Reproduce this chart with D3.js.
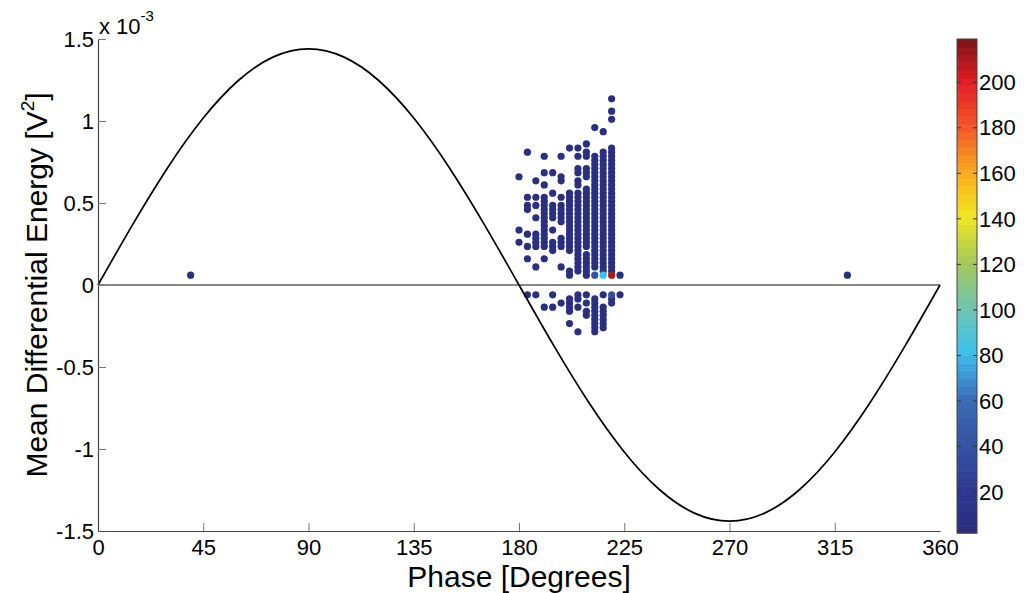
<!DOCTYPE html>
<html>
<head>
<meta charset="utf-8">
<script src="https://cdn.jsdelivr.net/npm/d3@7"></script>
<style>
  html, body { margin: 0; padding: 0; background: #fff; }
  svg text { font-family: "Liberation Sans", Arial, sans-serif; fill: #000; }
</style>
</head>
<body>
<div id="chart"></div>
<script>
// reference sine (x 10^-3), read every 15 degrees
const sinePhase = [0, 15, 30, 45, 60, 75, 90, 105, 120, 135, 150, 165, 180,
    195, 210, 225, 240, 255, 270, 285, 300, 315, 330, 345, 360];
const sineValue = [0, 0.373, 0.72, 1.018, 1.247, 1.391, 1.44, 1.391, 1.247, 1.018, 0.72, 0.373, 0,
    -0.373, -0.72, -1.018, -1.247, -1.391, -1.44, -1.391, -1.247, -1.018, -0.72, -0.373, 0];

// histogram bins: phase of each column, energy bins above / below zero
// energy of bin k = +-(binStart + k * binStep)
const binStart = 0.06, binStep = 0.025;
const columnPhase = [39.6, 180, 183.6, 187.2, 190.8, 194.4, 198, 201.6, 205.2, 208.8, 212.4, 216, 219.6, 223.2, 320.4];
const positiveBins = [
    [0],
    [24, 11, 8],
    [30, 19, 17, 16, 10, 7, 4],
    [23, 19, 17, 14, 10, 9, 8, 7, 2],
    [29, 25, 22, 19, 18, 17, 16, 15, 14, 13, 12, 11, 10, 9, 8, 7, 4],
    [25, 20, 17, 16, 15, 14, 11, 8, 7, 6],
    [29, 24, 23, 19, 17, 16, 15, 14, 13, 9, 8, 7, 2],
    [31, 20, 19, 18, 17, 16, 15, 14, 13, 12, 11, 10, 9, 8, 7, 6, 1, 0],
    [31, 29, 26, 25, 23, 22, 20, 19, 18, 17, 16, 15, 14, 13, 12, 11, 10, 9, 8, 7, 6, 5, 4, 3, 2, 1],
    [32, 30, 29, 26, 25, 24, 21, 20, 19, 18, 17, 16, 15, 14, 13, 12, 11, 10, 9, 8, 7, 5, 4, 3, 2, 1, 0],
    [36, 29, 28, 27, 26, 25, 24, 23, 22, 21, 20, 19, 18, 17, 16, 15, 14, 13, 12, 11, 10, 9, 8, 7, 6, 5, 4, 3, 2, 0],
    [35, 30, 29, 28, 27, 26, 25, 24, 23, 22, 21, 20, 19, 18, 17, 16, 15, 14, 13, 12, 11, 10, 9, 8, 7, 6, 5, 4, 3, 2, 1, 0],
    [43, 40, 38, 31, 30, 29, 28, 27, 26, 25, 24, 23, 22, 21, 20, 19, 18, 17, 16, 15, 14, 13, 12, 11, 10, 9, 8, 7, 6, 5, 4, 3, 2, 1, 0],
    [0],
    [0]
];
const negativeBins = [
    [],
    [],
    [0],
    [0],
    [3],
    [0, 3],
    [2],
    [1, 2, 3, 4, 7],
    [0, 1, 3, 9],
    [0, 2, 4, 5],
    [1, 2, 3, 4, 5, 6, 7, 8, 9],
    [0, 3, 4, 5, 6, 7, 8],
    [0, 1, 2],
    [0],
    []
];
// counts of the few bins that are not dark blue
const hotPhase = [212.4, 216, 219.6, 219.6];
const hotBin = [0, 0, 0, 0];
const hotSign = [1, 1, 1, -1];
const hotCount = [40, 80, 212, 36];
const baseCount = 4;

const colorTicks = [20, 40, 60, 80, 100, 120, 140, 160, 180, 200];
const colorMin = 2, colorMax = 219;
const xTicks = [0, 45, 90, 135, 180, 225, 270, 315, 360];
const yTicks = [-1.5, -1, -0.5, 0, 0.5, 1, 1.5];

const width = 1024, height = 593;
const svg = d3.select('#chart').append('svg')
    .attr('width', width).attr('height', height);

const x = d3.scaleLinear().domain([0, 360]).range([98, 940]);
const y = d3.scaleLinear().domain([-1.5, 1.5]).range([531, 39]);

// jet-ish palette as printed
const jet = d3.scaleLinear()
    .domain([0, 0.08, 0.18, 0.27, 0.33, 0.37, 0.45, 0.55, 0.64, 0.73, 0.82, 0.91, 1])
    .range(['#2b2e7e', '#2e3890', '#3552a3', '#3a6db5', '#3fa0db', '#3fc2ec', '#6cc3b5', '#a6c957',
        '#f2e722', '#f8ac1e', '#f15a29', '#e41f26', '#7b1416'])
    .interpolate(d3.interpolateRgb);
const levels = 64;
const colorOf = v => {
    let t = (v - colorMin) / (colorMax - colorMin);
    t = Math.max(0, Math.min(1, t));
    const lvl = Math.min(levels - 1, Math.floor(t * levels));
    return jet((lvl + 0.5) / levels);
};

// build the point list
const points = [];
columnPhase.forEach((ph, i) => {
    positiveBins[i].forEach(k => points.push({ phase: ph, bin: k, sign: 1, count: baseCount }));
    negativeBins[i].forEach(k => points.push({ phase: ph, bin: k, sign: -1, count: baseCount }));
});
hotPhase.forEach((ph, i) => {
    const p = points.find(d => d.phase === ph && d.bin === hotBin[i] && d.sign === hotSign[i]);
    if (p) p.count = hotCount[i];
});
points.sort((a, b) => a.count - b.count);

// zero line
svg.append('line')
    .attr('x1', x(0)).attr('x2', x(360))
    .attr('y1', y(0)).attr('y2', y(0))
    .attr('stroke', '#111').attr('stroke-width', 1.2);

// scatter
svg.append('g').selectAll('circle')
    .data(points)
    .join('circle')
    .attr('cx', d => x(d.phase))
    .attr('cy', d => y(d.sign * (binStart + d.bin * binStep)))
    .attr('r', 3.6)
    .attr('fill', d => colorOf(d.count));

// sine
const line = d3.line()
    .x((d, i) => x(sinePhase[i]))
    .y(d => y(d))
    .curve(d3.curveNatural);
svg.append('path')
    .attr('d', line(sineValue))
    .attr('fill', 'none')
    .attr('stroke', '#000')
    .attr('stroke-width', 1.7);

// axes (matlab style, ticks inward, no box)
const xAxis = svg.append('g').attr('transform', `translate(0,${y(-1.5)})`)
    .call(d3.axisBottom(x).tickValues(xTicks).tickSizeInner(-8).tickSizeOuter(0).tickPadding(5));
const yAxis = svg.append('g').attr('transform', `translate(${x(0)},0)`)
    .call(d3.axisLeft(y).tickValues(yTicks).tickSizeInner(-8).tickSizeOuter(0).tickPadding(4)
        .tickFormat(d => String(d)));
[xAxis, yAxis].forEach(g => {
    g.select('.domain').attr('stroke', '#444').attr('stroke-width', 1.2);
    g.selectAll('.tick line').attr('stroke', '#777').attr('stroke-width', 1);
    g.selectAll('.tick text').attr('font-size', 22).attr('fill', '#000')
        .style('font-family', '"Liberation Sans", Arial, sans-serif');
});
xAxis.selectAll('.tick text').attr('dy', '0.85em');
yAxis.selectAll('.tick text').attr('dy', '0.35em');
// no tick mark on the axis corners
xAxis.selectAll('.tick line').filter(d => d === 0 || d === 360).remove();
yAxis.selectAll('.tick line').filter(d => d === -1.5).remove();

// exponent label
const expo = svg.append('text').attr('x', 99).attr('y', 34).attr('font-size', 22);
expo.append('tspan').text('x 10');
expo.append('tspan').attr('font-size', 15).attr('dy', -13).text('-3');

// axis titles
svg.append('text')
    .attr('x', x(180)).attr('y', 587)
    .attr('text-anchor', 'middle').attr('font-size', 30)
    .text('Phase [Degrees]');
const yt = svg.append('text')
    .attr('transform', `translate(47,${y(0)}) rotate(-90)`)
    .attr('text-anchor', 'middle').attr('font-size', 30);
yt.append('tspan').text('Mean Differential Energy [V');
yt.append('tspan').attr('font-size', 19).attr('dy', -13).text('2');
yt.append('tspan').attr('dy', 13).text(']');

// colorbar
const cbX = 957, cbW = 20;
const cy = d3.scaleLinear().domain([colorMin, colorMax]).range([533, 39]);
const cb = svg.append('g');
const step = (colorMax - colorMin) / levels;
cb.selectAll('rect')
    .data(d3.range(levels))
    .join('rect')
    .attr('x', cbX).attr('width', cbW)
    .attr('y', i => cy(colorMin + (i + 1) * step))
    .attr('height', i => cy(colorMin + i * step) - cy(colorMin + (i + 1) * step) + 0.6)
    .attr('fill', i => jet((i + 0.5) / levels));
cb.append('rect')
    .attr('x', cbX).attr('y', cy(colorMax)).attr('width', cbW)
    .attr('height', cy(colorMin) - cy(colorMax))
    .attr('fill', 'none').attr('stroke', '#444').attr('stroke-width', 1);
colorTicks.forEach(v => {
    cb.append('line').attr('x1', cbX).attr('x2', cbX + 4).attr('y1', cy(v)).attr('y2', cy(v))
        .attr('stroke', '#333').attr('stroke-width', 1);
    cb.append('line').attr('x1', cbX + cbW - 4).attr('x2', cbX + cbW).attr('y1', cy(v)).attr('y2', cy(v))
        .attr('stroke', '#333').attr('stroke-width', 1);
    cb.append('text').attr('x', cbX + cbW + 2).attr('y', cy(v)).attr('dy', '0.35em')
        .attr('font-size', 22).text(v);
});
</script>
</body>
</html>
